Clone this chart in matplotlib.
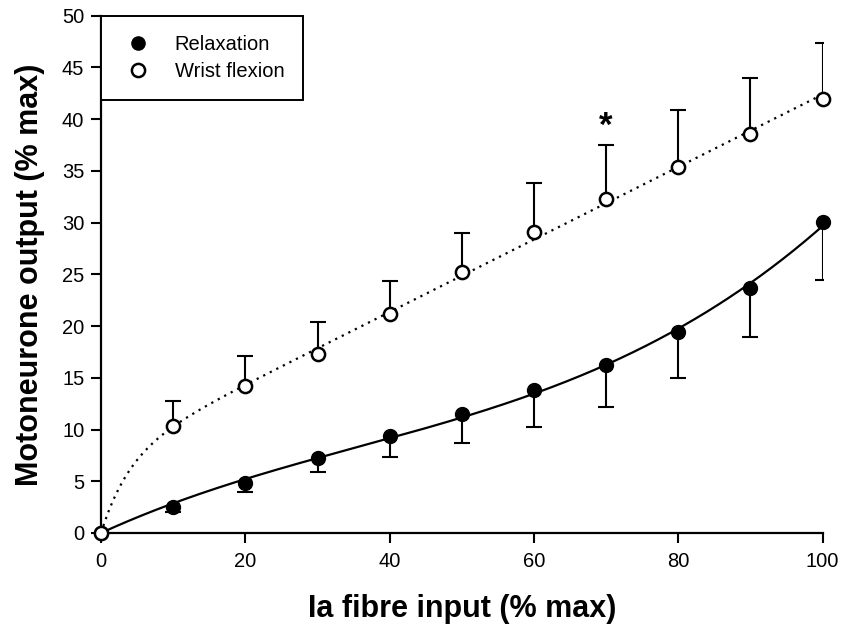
import numpy as np
import matplotlib
matplotlib.use("Agg")
import matplotlib.pyplot as plt

plt.rcParams['font.family'] = ['Liberation Sans', 'DejaVu Sans']

# data
fibre_input = [0, 10, 20, 30, 40, 50, 60, 70, 80, 90, 100]
relax_mean = [0, 2.5, 4.8, 7.2, 9.4, 11.5, 13.8, 16.2, 19.4, 23.7, 30.1]
relax_err = [0, 0.5, 0.8, 1.3, 2.1, 2.8, 3.6, 4.0, 4.4, 4.8, 5.6]
wrist_mean = [0, 10.3, 14.2, 17.3, 21.2, 25.2, 29.1, 32.3, 35.4, 38.6, 42.0]
wrist_err = [0, 2.5, 2.9, 3.1, 3.2, 3.8, 4.7, 5.2, 5.5, 5.4, 5.4]

x = np.array(fibre_input, dtype=float)
rm = np.array(relax_mean)
wm = np.array(wrist_mean)
xs = np.linspace(0, 100, 400)

# fitted curves (least squares through the means)
A = np.column_stack([x, x**2, x**3])
c_relax = np.linalg.lstsq(A, rm, rcond=None)[0]
fit_relax = c_relax[0]*xs + c_relax[1]*xs**2 + c_relax[2]*xs**3

# wrist: a*(1-exp(-x/b)) + c*x, b found by a simple grid search
best = None
for b in np.linspace(2, 40, 381):
    B = np.column_stack([1 - np.exp(-x/b), x])
    coef, res = np.linalg.lstsq(B, wm, rcond=None)[:2]
    r = np.sum((B @ coef - wm)**2)
    if best is None or r < best[0]:
        best = (r, b, coef)
_, b_w, c_w = best
fit_wrist = c_w[0]*(1 - np.exp(-xs/b_w)) + c_w[1]*xs

fig = plt.figure(figsize=(8.42, 6.3), dpi=100)
ax = fig.add_axes([0.12, 0.154, 0.857, 0.821])

ax.plot(xs, fit_relax, color='black', lw=1.6, zorder=2)
ax.plot(xs, fit_wrist, color='black', lw=1.6, ls=(0, (1, 2.3)), zorder=2)

# one-sided error bars: relaxation downwards, wrist flexion upwards
relax_low = rm[1:] - np.array(relax_err[1:])
wrist_high = wm[1:] + np.array(wrist_err[1:])
ax.vlines(x[1:], relax_low, rm[1:], color='black', lw=1.5, zorder=3)
ax.plot(x[1:], relax_low, ls='none', marker='_', ms=12, mew=1.5,
        color='black', zorder=3)
ax.vlines(x[1:], wm[1:], wrist_high, color='black', lw=1.5, zorder=3)
ax.plot(x[1:], wrist_high, ls='none', marker='_', ms=12, mew=1.5,
        color='black', zorder=3)

ax.plot(x, rm, 'o', color='black', ms=10, clip_on=False, zorder=4,
        label='Relaxation')
ax.plot(x, wm, 'o', mfc='white', mec='black', mew=1.8, ms=9.5,
        clip_on=False, zorder=5, label='Wrist flexion')

ax.text(70, wrist_high[6] + 0.2, '*', ha='center', va='bottom',
        fontsize=25, fontweight='bold')

ax.set_xlim(0, 100)
ax.set_ylim(0, 50)
ax.set_xticks(np.arange(0, 101, 20))
ax.set_yticks(np.arange(0, 51, 5))
ax.spines['top'].set_visible(False)
ax.spines['right'].set_visible(False)
ax.spines['left'].set_linewidth(1.6)
ax.spines['bottom'].set_linewidth(1.6)
ax.tick_params(axis='y', direction='out', length=7, width=1.5, labelsize=14.5,
               pad=5)
ax.tick_params(axis='x', direction='out', length=7, width=1.5, labelsize=14.5,
               pad=7)

ax.set_xlabel('Ia fibre input (% max)', fontsize=22, fontweight='bold',
              labelpad=16)
ax.set_ylabel('Motoneurone output (% max)', fontsize=22, fontweight='bold',
              labelpad=12)

leg = ax.legend(loc='upper left', bbox_to_anchor=(0, 1.0), frameon=True,
                fancybox=False, edgecolor='black', fontsize=14.5,
                borderpad=0.95, handlelength=1.75, handletextpad=0.95,
                labelspacing=0.4, borderaxespad=0, framealpha=1)
leg.get_frame().set_linewidth(1.4)
for h in leg.legend_handles:
    h.set_markersize(9.5)

fig.savefig('out.png', dpi=100)
